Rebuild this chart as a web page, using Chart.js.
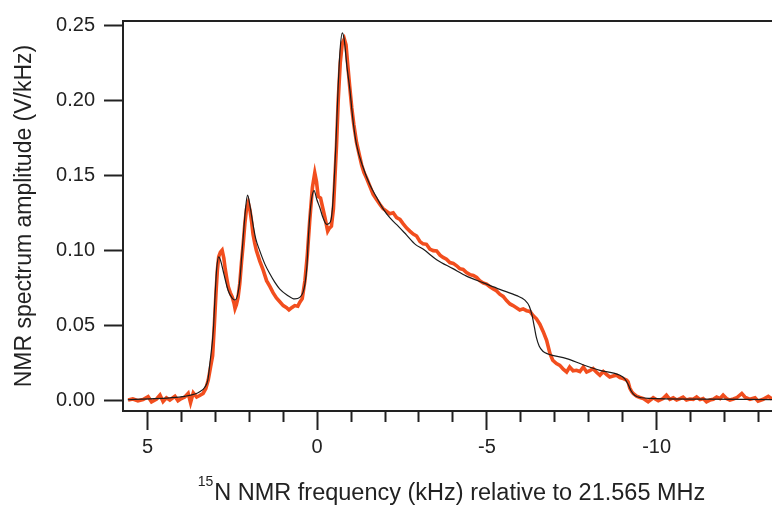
<!DOCTYPE html>
<html>
<head>
<meta charset="utf-8">
<title>15N NMR spectrum</title>
<script src="https://cdn.jsdelivr.net/npm/chart.js@4"></script>
<style>
  html, body { margin: 0; padding: 0; background: #fff; }
  #wrap { width: 772px; height: 508px; position: relative; }
</style>
</head>
<body>
<div id="wrap"><canvas id="nmr"></canvas></div>
<script>
/* measured spectrum (orange), kHz vs V/kHz */
const measFreq = [
  5.57, 5.43, 5.28, 5.13, 4.98, 4.88, 4.73, 4.63, 4.54, 4.44, 4.34, 4.19, 4.10, 4.00, 3.90, 3.80, 3.73, 3.65, 3.55, 3.46,
  3.36, 3.28, 3.21, 3.14, 3.08, 3.03, 2.98, 2.94, 2.90, 2.85, 2.80, 2.75, 2.71, 2.66, 2.62, 2.56, 2.50, 2.45, 2.42, 2.38,
  2.33, 2.28, 2.23, 2.18, 2.13, 2.08, 2.03, 1.98, 1.93, 1.89, 1.84, 1.79, 1.69, 1.59, 1.49, 1.39, 1.30, 1.20, 1.10, 1.00,
  0.90, 0.83, 0.75, 0.66, 0.57, 0.51, 0.44, 0.36, 0.29, 0.22, 0.14, 0.07, 0.02, -0.03, -0.10, -0.17, -0.23, -0.31, -0.36, -0.42,
  -0.48, -0.52, -0.57, -0.62, -0.68, -0.74, -0.80, -0.85, -0.90, -0.96, -1.02, -1.08, -1.16, -1.23, -1.31, -1.38, -1.46, -1.55, -1.65, -1.75,
  -1.85, -1.94, -2.04, -2.14, -2.24, -2.34, -2.44, -2.53, -2.63, -2.73, -2.83, -2.93, -3.03, -3.12, -3.22, -3.32, -3.42, -3.52, -3.62, -3.71,
  -3.81, -3.91, -4.01, -4.11, -4.20, -4.30, -4.40, -4.50, -4.60, -4.70, -4.79, -4.89, -4.99, -5.09, -5.19, -5.28, -5.38, -5.48, -5.58, -5.68,
  -5.77, -5.87, -5.97, -6.07, -6.17, -6.27, -6.36, -6.46, -6.56, -6.66, -6.76, -6.86, -6.94, -7.05, -7.15, -7.25, -7.35, -7.44, -7.54, -7.64,
  -7.74, -7.84, -7.94, -8.03, -8.13, -8.23, -8.33, -8.43, -8.53, -8.62, -8.72, -8.82, -8.92, -9.02, -9.12, -9.16, -9.21, -9.27, -9.31, -9.41,
  -9.51, -9.61, -9.75, -9.90, -10.05, -10.19, -10.29, -10.39, -10.49, -10.59, -10.69, -10.78, -10.88, -10.98, -11.08, -11.18, -11.28, -11.37, -11.47, -11.57,
  -11.67, -11.77, -11.87, -11.96, -12.06, -12.16, -12.26, -12.36, -12.51, -12.60, -12.75, -12.90, -12.99, -13.14, -13.29, -13.40
];
const measAmp = [
  0.0005, 0.0012, 0.0000, 0.0008, 0.0027, -0.0007, 0.0012, 0.0038, -0.0005, 0.0020, 0.0005, 0.0030, 0.0000, 0.0015, 0.0025, 0.0049, -0.0013, 0.0053, 0.0025, 0.0035,
  0.0049, 0.0082, 0.0137, 0.0225, 0.0300, 0.0500, 0.0720, 0.0870, 0.0960, 0.0990, 0.1003, 0.0950, 0.0880, 0.0810, 0.0760, 0.0720, 0.0690, 0.0650, 0.0615, 0.0640,
  0.0689, 0.0780, 0.0920, 0.1042, 0.1180, 0.1280, 0.1318, 0.1270, 0.1190, 0.1110, 0.1050, 0.1000, 0.0930, 0.0870, 0.0800, 0.0760, 0.0720, 0.0685, 0.0660, 0.0634,
  0.0620, 0.0605, 0.0620, 0.0634, 0.0630, 0.0656, 0.0680, 0.0800, 0.0970, 0.1197, 0.1420, 0.1517, 0.1460, 0.1360, 0.1350, 0.1280, 0.1219, 0.1130, 0.1150, 0.1163,
  0.1280, 0.1470, 0.1700, 0.2000, 0.2250, 0.2380, 0.2410, 0.2370, 0.2240, 0.2090, 0.1950, 0.1840, 0.1720, 0.1650, 0.1570, 0.1520, 0.1480, 0.1430, 0.1374, 0.1340,
  0.1307, 0.1280, 0.1263, 0.1245, 0.1252, 0.1220, 0.1208, 0.1180, 0.1152, 0.1130, 0.1110, 0.1097, 0.1060, 0.1045, 0.1042, 0.1010, 0.1000, 0.0998, 0.0970, 0.0955,
  0.0943, 0.0920, 0.0915, 0.0899, 0.0880, 0.0875, 0.0854, 0.0840, 0.0835, 0.0821, 0.0800, 0.0785, 0.0777, 0.0760, 0.0745, 0.0733, 0.0710, 0.0695, 0.0667, 0.0645,
  0.0634, 0.0620, 0.0605, 0.0612, 0.0600, 0.0595, 0.0568, 0.0546, 0.0510, 0.0460, 0.0402, 0.0314, 0.0270, 0.0248, 0.0236, 0.0210, 0.0192, 0.0225, 0.0200, 0.0203,
  0.0195, 0.0225, 0.0192, 0.0200, 0.0214, 0.0190, 0.0170, 0.0195, 0.0175, 0.0159, 0.0165, 0.0170, 0.0155, 0.0148, 0.0137, 0.0126, 0.0085, 0.0060, 0.0049, 0.0031,
  0.0022, 0.0015, -0.0007, 0.0020, 0.0000, 0.0015, 0.0038, 0.0010, 0.0020, 0.0005, 0.0015, 0.0025, 0.0005, 0.0012, 0.0010, 0.0025, 0.0008, 0.0015, -0.0007, 0.0005,
  0.0010, 0.0025, 0.0015, 0.0038, 0.0015, 0.0005, 0.0012, 0.0020, 0.0049, 0.0025, 0.0010, 0.0020, -0.0003, 0.0010, 0.0030, 0.0012
];

/* fitted line shape (black) */
const fitFreq = [
  5.58, 4.93, 4.34, 3.90, 3.60, 3.46, 3.31, 3.22, 3.16, 3.06, 3.01, 2.96, 2.90, 2.84, 2.77, 2.69, 2.62, 2.51, 2.42, 2.35,
  2.28, 2.22, 2.18, 2.11, 2.05, 1.98, 1.89, 1.81, 1.69, 1.54, 1.39, 1.25, 1.10, 0.89, 0.66, 0.51, 0.42, 0.36, 0.30, 0.27,
  0.22, 0.16, 0.09, 0.01, -0.08, -0.17, -0.28, -0.34, -0.42, -0.48, -0.55, -0.62, -0.68, -0.74, -0.80, -0.88, -0.96, -1.06, -1.16, -1.36,
  -1.55, -1.75, -1.94, -2.14, -2.40, -2.63, -2.90, -3.12, -3.52, -4.00, -4.40, -4.90, -5.38, -5.88, -6.12, -6.25, -6.33, -6.40, -6.46, -6.54,
  -6.65, -6.80, -7.35, -7.83, -8.33, -8.92, -9.07, -9.16, -9.25, -9.36, -9.57, -9.80, -11.27, -13.40
];
const fitAmp = [
  0.0007, 0.0013, 0.0020, 0.0030, 0.0045, 0.0060, 0.0090, 0.0140, 0.0250, 0.0468, 0.0690, 0.0880, 0.0958, 0.0930, 0.0866, 0.0790, 0.0733, 0.0685, 0.0671, 0.0700,
  0.0800, 0.0970, 0.1086, 0.1280, 0.1369, 0.1300, 0.1175, 0.1080, 0.0998, 0.0910, 0.0844, 0.0790, 0.0744, 0.0705, 0.0678, 0.0689, 0.0720, 0.0777, 0.0900, 0.1042,
  0.1220, 0.1350, 0.1400, 0.1340, 0.1285, 0.1220, 0.1175, 0.1180, 0.1219, 0.1380, 0.1700, 0.2100, 0.2350, 0.2450, 0.2400, 0.2220, 0.2080, 0.1860, 0.1705, 0.1550,
  0.1440, 0.1355, 0.1280, 0.1219, 0.1160, 0.1105, 0.1040, 0.1010, 0.0940, 0.0880, 0.0830, 0.0785, 0.0742, 0.0700, 0.0670, 0.0630, 0.0570, 0.0490, 0.0420, 0.0365,
  0.0330, 0.0312, 0.0281, 0.0240, 0.0203, 0.0170, 0.0145, 0.0110, 0.0065, 0.0035, 0.0020, 0.0016, 0.0011, 0.0008
];

const xLabelTicks = [5, 0, -5, -10];
const yTicks = [0, 0.05, 0.10, 0.15, 0.20, 0.25];

const FONT = '"Liberation Sans", Arial, Helvetica, sans-serif';
const INK  = '#222';

// Igor-style frame: top line of the box (no right side)
const topBorder = {
  id: 'topBorder',
  afterDraw(chart) {
    const { ctx, chartArea } = chart;
    ctx.save();
    ctx.strokeStyle = INK;
    ctx.lineWidth = 2;
    ctx.beginPath();
    ctx.moveTo(chartArea.left - 1, chartArea.top);
    ctx.lineTo(chartArea.right, chartArea.top);
    ctx.stroke();
    ctx.restore();
  }
};

// x title with a real superscript mass number
const xTitle = {
  id: 'xTitle',
  afterDraw(chart) {
    const { ctx, chartArea } = chart;
    const sup = '15', main = 'N NMR frequency (kHz) relative to 21.565 MHz';
    ctx.save();
    ctx.fillStyle = INK;
    ctx.textBaseline = 'alphabetic';
    ctx.textAlign = 'left';
    ctx.font = '14px ' + FONT;
    const wSup = ctx.measureText(sup).width;
    ctx.font = '23.5px ' + FONT;
    const wMain = ctx.measureText(main).width;
    const x0 = (chartArea.left + chartArea.right) / 2 + 4 - (wSup + 1 + wMain) / 2;
    ctx.fillText(main, x0 + wSup + 1, 500);
    ctx.font = '14px ' + FONT;
    ctx.fillText(sup, x0, 486);
    ctx.restore();
  }
};

new Chart(document.getElementById('nmr'), {
  type: 'line',
  data: {
    datasets: [
      {
        label: 'fit',
        data: fitFreq.map((f, i) => ({ x: f, y: fitAmp[i] })),
        borderColor: '#1b1b1b',
        borderWidth: 1.2,
        pointRadius: 0,
        cubicInterpolationMode: 'monotone',
        order: 0
      },
      {
        label: 'measured',
        data: measFreq.map((f, i) => ({ x: f, y: measAmp[i] })),
        borderColor: '#f24e1e',
        borderWidth: 3.6,
        pointRadius: 0,
        tension: 0,
        order: 1
      }
    ]
  },
  options: {
    responsive: true,
    maintainAspectRatio: false,
    animation: false,
    layout: { padding: { top: 18, right: 0, bottom: 0, left: 0 } },
    plugins: { legend: { display: false }, tooltip: { enabled: false } },
    scales: {
      x: {
        type: 'linear',
        reverse: true,
        min: -13.4,
        max: 5.72,
        afterFit: s => { s.height = 97; },
        border: { display: true, color: INK, width: 2 },
        grid: {
          drawOnChartArea: false,
          tickLength: 19,
          tickWidth: 2,
          tickColor: INK,
          // short minor ticks every 1 kHz, long ones where labelled
          tickBorderDash: ctx => xLabelTicks.includes(Math.round(ctx.tick.value)) && Math.abs(ctx.tick.value % 5) < 1e-6 ? [] : [10, 40]
        },
        ticks: {
          stepSize: 1,
          autoSkip: false,
          maxRotation: 0,
          includeBounds: false,
          padding: 5,
          color: INK,
          font: { family: FONT, size: 20 },
          callback: v => {
            const r = Math.round(v);
            return Math.abs(v - r) < 1e-6 && xLabelTicks.includes(r) ? String(r) : '';
          }
        },
        title: { display: false }
      },
      y: {
        type: 'linear',
        min: -0.0068,
        max: 0.2529,
        afterFit: s => { s.width = 123; },
        afterBuildTicks: s => { s.ticks = yTicks.map(v => ({ value: v })); },
        border: { display: true, color: INK, width: 2 },
        grid: { drawOnChartArea: false, tickLength: 19, tickWidth: 2, tickColor: INK },
        ticks: {
          padding: 9,
          color: INK,
          font: { family: FONT, size: 20 },
          callback: v => v.toFixed(2)
        },
        title: {
          display: true,
          text: 'NMR spectrum amplitude (V/kHz)',
          color: INK,
          font: { family: FONT, size: 23 },
          padding: { top: 11, bottom: 0 }
        }
      }
    }
  },
  plugins: [topBorder, xTitle]
});
</script>
</body>
</html>
